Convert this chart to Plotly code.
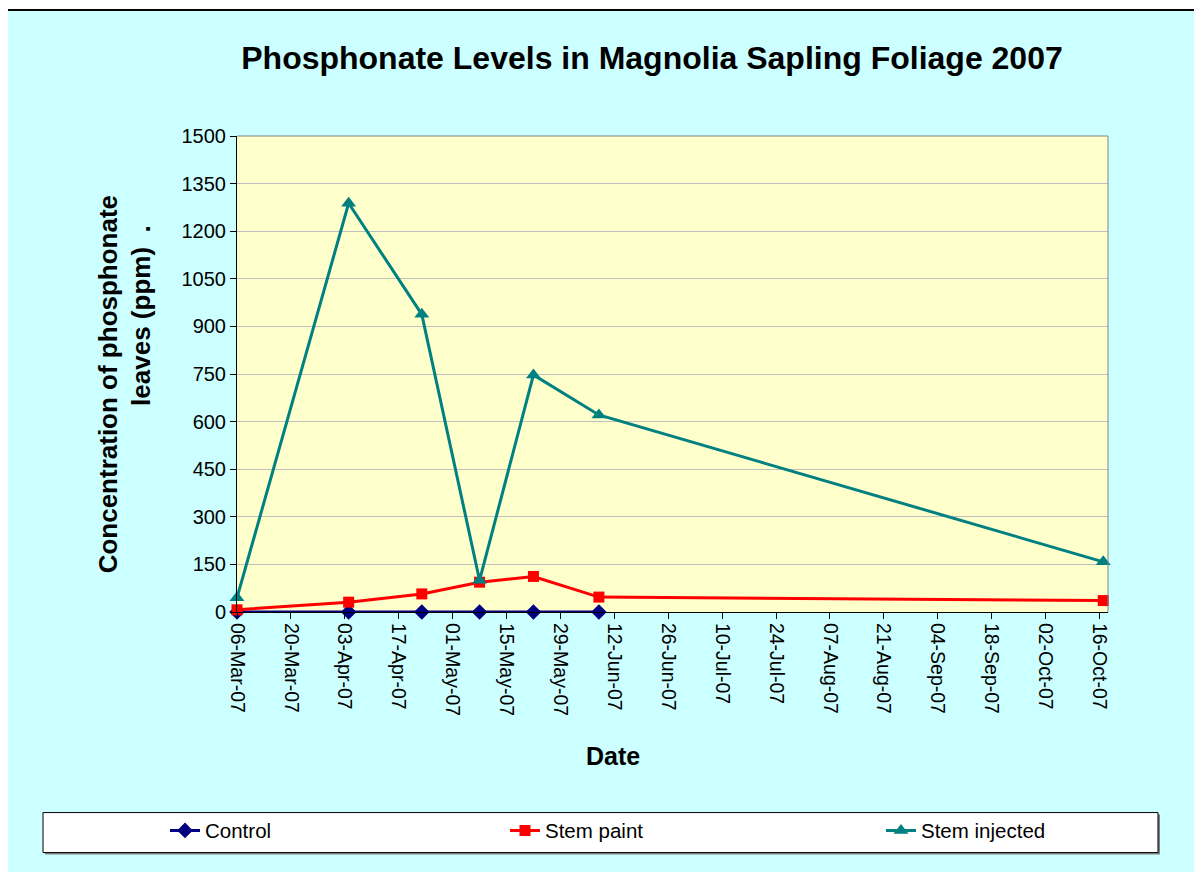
import plotly.graph_objects as go
from datetime import datetime, timedelta

# ---- data ----
dates = ["2007-03-06", "2007-04-04", "2007-04-23", "2007-05-08", "2007-05-22", "2007-06-08", "2007-10-17"]
control = [0, 0, 0, 0, 0, 0]
stem_paint = [7, 31, 57, 94, 112, 47, 36]
stem_injected = [45, 1288, 938, 100, 747, 621, 158]

series_names = ["Control", "Stem paint", "Stem injected"]
title_text = "Phosphonate Levels in Magnolia Sapling Foliage 2007"
ytitle_line1 = "Concentration of phosphonate"
ytitle_line2 = "leaves (ppm)  ."
xtitle = "Date"

# ---- layout geometry (page pixels; the page body adds an 8px offset) ----
OFF = 8
W, H = 1202 - OFF, 872 - OFF
PL, PR, PT, PB = 237, 1108, 136, 612.3  # plot area in page pixels
FONT = "Arial, Liberation Sans, sans-serif"


def px(x):
    return (x - PL) / (PR - PL)


def py(y):
    return (PB - y) / (PB - PT)


fig = go.Figure()
fig.add_trace(go.Scatter(x=dates[:len(control)], y=control, name=series_names[0], mode="lines+markers",
                         line=dict(color="#000080", width=3), cliponaxis=False,
                         marker=dict(symbol="diamond", size=12, color="#000080"), legend="legend"))
fig.add_trace(go.Scatter(x=dates, y=stem_paint, name=series_names[1], mode="lines+markers",
                         line=dict(color="#FF0000", width=3), cliponaxis=False,
                         marker=dict(symbol="square", size=11, color="#FF0000"), legend="legend2"))
fig.add_trace(go.Scatter(x=dates, y=stem_injected, name=series_names[2], mode="lines+markers",
                         line=dict(color="#008080", width=3), cliponaxis=False,
                         marker=dict(symbol="triangle-up", size=13, color="#008080"), legend="legend3"))

x_start = datetime(2007, 3, 6)
days_span = (PR - PL) / (53.9 / 14)
x_end = x_start + timedelta(days=days_span)

shapes = [
    # chart area background with border
    dict(type="rect", xref="paper", yref="paper", x0=px(7), x1=px(1220), y0=py(10), y1=py(890),
         fillcolor="#CCFFFF", line=dict(color="black", width=2), layer="below"),
    # plot area background
    dict(type="rect", xref="paper", yref="paper", x0=0, x1=1, y0=0, y1=1,
         fillcolor="#FFFFCC", line=dict(width=0), layer="below"),
    # legend box shadow + box
    dict(type="rect", xref="paper", yref="paper", x0=px(45), x1=px(1160), y0=py(815), y1=py(855),
         fillcolor="#808080", line=dict(width=0), layer="below"),
    dict(type="rect", xref="paper", yref="paper", x0=px(43), x1=px(1158), y0=py(813), y1=py(853),
         fillcolor="white", line=dict(color="black", width=1), layer="below"),
    # plot area top/right border
    dict(type="line", xref="paper", yref="paper", x0=0, x1=1, y0=1, y1=1,
         line=dict(color="#808080", width=1), layer="above"),
    dict(type="line", xref="paper", yref="paper", x0=1, x1=1, y0=0, y1=1,
         line=dict(color="#808080", width=1), layer="above"),
]

legend_common = dict(orientation="h", yref="paper", y=py(831), yanchor="middle", xanchor="left",
                     bgcolor="rgba(0,0,0,0)", borderwidth=0, font=dict(family=FONT, size=20.5, color="black"))

fig.update_layout(
    width=W, height=H,
    margin=dict(l=PL - OFF, r=1202 - PR, t=PT - OFF, b=872 - PB),
    paper_bgcolor="white",
    plot_bgcolor="#FFFFCC",
    font=dict(family=FONT, color="black"),
    title=dict(text=title_text, x=px(652), xref="paper", xanchor="center",
               y=1 - (58 - OFF) / H, yref="container", yanchor="middle",
               font=dict(family=FONT, size=32, color="black", weight="bold")),
    xaxis=dict(type="date", range=[x_start, x_end], tick0="2007-03-06", dtick=14 * 86400000,
               tickformat="%d-%b-%y", tickangle=90, ticks="outside", ticklen=6, tickcolor="black",
               showline=True, linecolor="black", linewidth=1, showgrid=False, zeroline=False,
               tickfont=dict(family=FONT, size=19.5, color="black")),
    yaxis=dict(range=[0, 1500], dtick=150, tick0=0, ticks="outside", ticklen=6, tickcolor="black",
               showline=True, linecolor="black", linewidth=1, showgrid=True, gridcolor="#C0C0C0",
               gridwidth=1, zeroline=False, tickfont=dict(family=FONT, size=20, color="black")),
    shapes=shapes,
    showlegend=True,
    legend=dict(x=px(165), **legend_common),
    legend2=dict(x=px(505), **legend_common),
    legend3=dict(x=px(881), **legend_common),
    annotations=[
        dict(text=xtitle, xref="paper", yref="paper", x=px(613), y=py(756), xanchor="center",
             yanchor="middle", showarrow=False, font=dict(family=FONT, size=25, color="black", weight="bold")),
        dict(text=ytitle_line1, xref="paper", yref="paper", x=px(108), y=py(384.5), xanchor="center",
             yanchor="middle", textangle=-90, showarrow=False,
             font=dict(family=FONT, size=26, color="black", weight="bold")),
        dict(text=ytitle_line2, xref="paper", yref="paper", x=px(141), y=py(316), xanchor="center",
             yanchor="middle", textangle=-90, showarrow=False,
             font=dict(family=FONT, size=26, color="black", weight="bold")),
    ],
)

fig.write_html("out.html")
